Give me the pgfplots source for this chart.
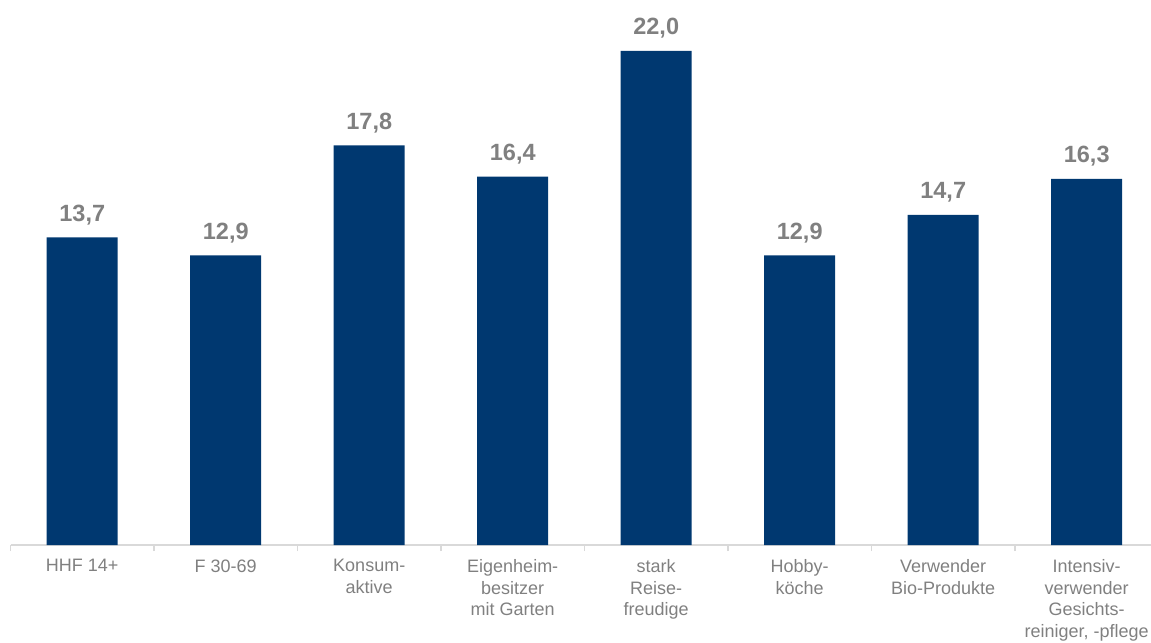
\documentclass[border=0pt]{standalone}
\usepackage{pgfplots}
\pgfplotsset{compat=1.18}
\usepackage{fontspec}
\setmainfont{Liberation Sans}
\definecolor{barblue}{RGB}{0,56,112}
\definecolor{labgray}{RGB}{128,128,128}
\definecolor{axgray}{RGB}{217,217,217}
\begin{document}
\begin{tikzpicture}
\begin{axis}[
    scale only axis,
    width=1140.5pt, height=545pt,
    xmin=-0.5, xmax=7.448, ymin=0, ymax=24.27,
    clip=false,
    axis y line=none,
    axis x line*=bottom,
    x axis line style={draw=axgray, line width=1.5pt},
    xtick={0,...,7},
    xticklabels={HHF 14+, F 30-69, Konsum-\\aktive, Eigenheim-\\besitzer\\mit Garten,
      stark\\Reise-\\freudige, Hobby-\\köche, Verwender\\Bio-Produkte,
      {Intensiv-\\verwender\\Gesichts-\\reiniger, -pflege}},
    major tick length=0pt,
    minor xtick={-0.5,0.5,...,6.5},
    minor tick length=6pt,
    tick align=outside,
    minor x tick style={draw=axgray, line width=1.2pt},
    xticklabel style={align=center, anchor=north, text=labgray,
      font=\fontsize{18pt}{21.7pt}\selectfont, yshift=-11pt},
    ybar, bar width=71pt,
    nodes near coords,
    nodes near coords style={anchor=base, yshift=16pt, text=labgray,
      font=\fontsize{23.5pt}{28pt}\selectfont\bfseries,
      /pgf/number format/.cd, fixed, zerofill, precision=1, use comma, assume math mode=true},
]
\addplot[fill=barblue, draw=none] coordinates {
  (0,13.7) (1,12.9) (2,17.8) (3,16.4) (4,22.0) (5,12.9) (6,14.7) (7,16.3)};
\coordinate (bl) at (rel axis cs:0,0);
\coordinate (tr) at (rel axis cs:1,1);
\end{axis}
\pgfresetboundingbox
\path[use as bounding box] ([shift={(-10.5pt,-97pt)}]bl) rectangle (tr);
\end{tikzpicture}
\end{document}
